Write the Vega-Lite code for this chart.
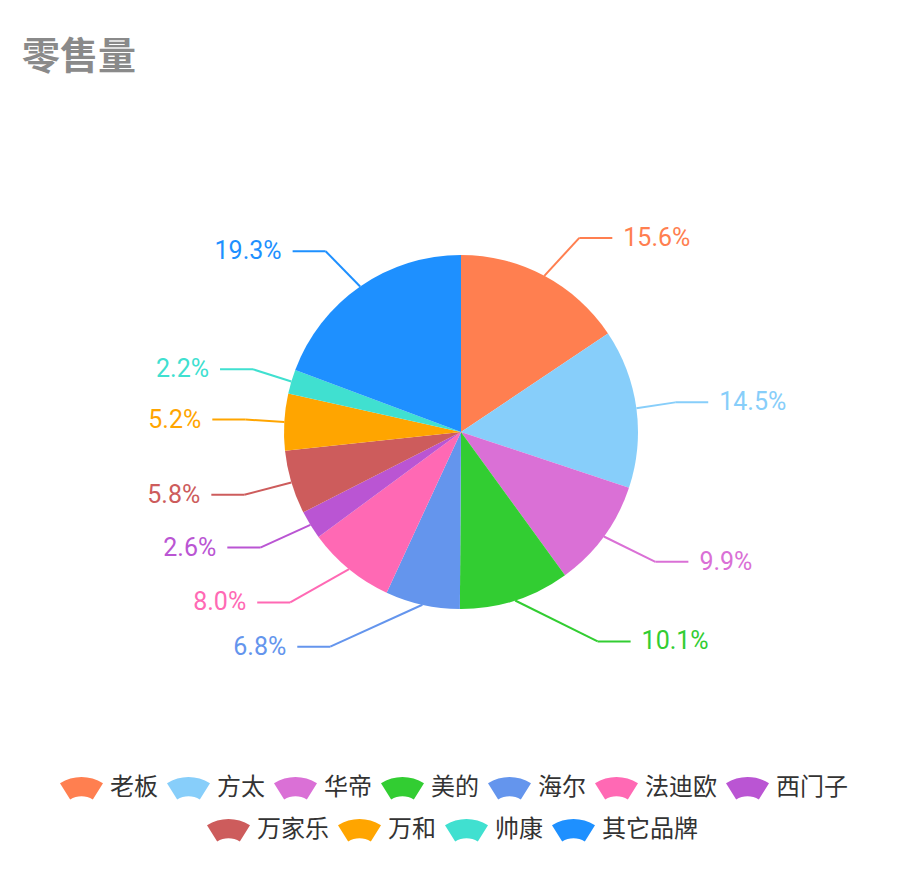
{
  "$schema": "https://vega.github.io/schema/vega-lite/v6.json",
  "description": "零售量 pie with leader-line labels",
  "width": 922,
  "height": 716,
  "autosize": "none",
  "padding": {"top": 74, "bottom": 92, "left": 0, "right": 0},
  "background": "white",
  "title": {
    "text": "零售量",
    "anchor": "start",
    "frame": "group",
    "dx": 22,
    "dy": 39,
    "offset": 6,
    "baseline": "alphabetic",
    "font": "Noto Sans CJK SC",
    "fontSize": 38,
    "fontWeight": "bold",
    "color": "#8a8a8a"
  },
  "data": {
    "values": [
      {"brand": "老板", "pct": 15.6},
      {"brand": "方太", "pct": 14.5},
      {"brand": "华帝", "pct": 9.9},
      {"brand": "美的", "pct": 10.1},
      {"brand": "海尔", "pct": 6.8},
      {"brand": "法迪欧", "pct": 8.0},
      {"brand": "西门子", "pct": 2.6},
      {"brand": "万家乐", "pct": 5.8},
      {"brand": "万和", "pct": 5.2},
      {"brand": "帅康", "pct": 2.2},
      {"brand": "其它品牌", "pct": 19.3}
    ]
  },
  "transform": [
    {"window": [{"op": "sum", "field": "pct", "as": "end"}], "frame": [null, 0]},
    {"calculate": "datum.end - datum.pct", "as": "start"},
    {"calculate": "(datum.start + datum.pct / 2) * 2 * PI / 100", "as": "a"},
    {"calculate": "sin(datum.a) >= 0 ? 1 : -1", "as": "dir"},
    {"calculate": "177 * sin(datum.a)", "as": "sx"},
    {"calculate": "177 * cos(datum.a)", "as": "sy"},
    {"calculate": "220 * cos(datum.a)", "as": "ey"},
    {"calculate": "datum.ey > 0 ? 216 : 223", "as": "rA"},
    {"calculate": "datum.ey > 0 ? 232 : 265", "as": "rB"},
    {"calculate": "datum.dir * datum.rA * sqrt(max(0, 1 - datum.ey * datum.ey / (datum.rB * datum.rB)))", "as": "ex"},
    {"calculate": "datum.ex + datum.dir * 33", "as": "tx"},
    {"calculate": "format(datum.pct, '.1f') + '%'", "as": "label"}
  ],
  "layer": [
    {
      "transform": [{"filter": {"field": "brand", "oneOf": ["老板", "方太", "华帝", "美的", "海尔", "法迪欧", "西门子"]}}],
      "mark": {"type": "arc", "outerRadius": 177},
      "encoding": {
        "theta": {"field": "start", "type": "quantitative", "scale": {"domain": [0, 100]}},
        "theta2": {"field": "end"},
        "fill": {
          "field": "brand",
          "type": "nominal",
          "scale": {
            "domain": ["老板", "方太", "华帝", "美的", "海尔", "法迪欧", "西门子"],
            "range": ["#ff7f50", "#87cefa", "#da70d6", "#32cd32", "#6495ed", "#ff69b4", "#ba55d3"]
          },
          "legend": {"orient": "none", "legendX": 60, "legendY": 692, "direction": "horizontal"}
        }
      }
    },
    {
      "transform": [{"filter": {"field": "brand", "oneOf": ["万家乐", "万和", "帅康", "其它品牌"]}}],
      "mark": {"type": "arc", "outerRadius": 177},
      "encoding": {
        "theta": {"field": "start", "type": "quantitative", "scale": {"domain": [0, 100]}},
        "theta2": {"field": "end"},
        "fill": {
          "field": "brand",
          "type": "nominal",
          "scale": {
            "domain": ["万家乐", "万和", "帅康", "其它品牌"],
            "range": ["#cd5c5c", "#ffa500", "#40e0d0", "#1e90ff"]
          },
          "legend": {"orient": "none", "legendX": 207, "legendY": 734, "direction": "horizontal"}
        }
      }
    },
    {
      "mark": {"type": "rule", "strokeWidth": 2},
      "encoding": {
        "x": {"field": "sx", "type": "quantitative", "scale": {"domain": [-461, 461], "nice": false, "zero": false}, "axis": null},
        "y": {"field": "sy", "type": "quantitative", "scale": {"domain": [-358, 358], "nice": false, "zero": false}, "axis": null},
        "x2": {"field": "ex"},
        "y2": {"field": "ey"},
        "stroke": {
          "field": "brand",
          "type": "nominal",
          "scale": {
            "domain": ["老板", "方太", "华帝", "美的", "海尔", "法迪欧", "西门子", "万家乐", "万和", "帅康", "其它品牌"],
            "range": ["#ff7f50", "#87cefa", "#da70d6", "#32cd32", "#6495ed", "#ff69b4", "#ba55d3", "#cd5c5c", "#ffa500", "#40e0d0", "#1e90ff"]
          },
          "legend": null
        }
      }
    },
    {
      "mark": {"type": "rule", "strokeWidth": 2},
      "encoding": {
        "x": {"field": "ex", "type": "quantitative", "scale": {"domain": [-461, 461], "nice": false, "zero": false}, "axis": null},
        "y": {"field": "ey", "type": "quantitative", "scale": {"domain": [-358, 358], "nice": false, "zero": false}, "axis": null},
        "x2": {"field": "tx"},
        "stroke": {
          "field": "brand",
          "type": "nominal",
          "scale": {
            "domain": ["老板", "方太", "华帝", "美的", "海尔", "法迪欧", "西门子", "万家乐", "万和", "帅康", "其它品牌"],
            "range": ["#ff7f50", "#87cefa", "#da70d6", "#32cd32", "#6495ed", "#ff69b4", "#ba55d3", "#cd5c5c", "#ffa500", "#40e0d0", "#1e90ff"]
          },
          "legend": null
        }
      }
    },
    {
      "transform": [{"filter": "datum.dir > 0"}],
      "mark": {"type": "text", "align": "left", "baseline": "middle", "dx": 11, "font": "Roboto", "fontSize": 25},
      "encoding": {
        "x": {"field": "tx", "type": "quantitative", "scale": {"domain": [-461, 461], "nice": false, "zero": false}, "axis": null},
        "y": {"field": "ey", "type": "quantitative", "scale": {"domain": [-358, 358], "nice": false, "zero": false}, "axis": null},
        "text": {"field": "label"},
        "color": {
          "field": "brand",
          "type": "nominal",
          "scale": {
            "domain": ["老板", "方太", "华帝", "美的", "海尔", "法迪欧", "西门子", "万家乐", "万和", "帅康", "其它品牌"],
            "range": ["#ff7f50", "#87cefa", "#da70d6", "#32cd32", "#6495ed", "#ff69b4", "#ba55d3", "#cd5c5c", "#ffa500", "#40e0d0", "#1e90ff"]
          },
          "legend": null
        }
      }
    },
    {
      "transform": [{"filter": "datum.dir < 0"}],
      "mark": {"type": "text", "align": "right", "baseline": "middle", "dx": -11, "font": "Roboto", "fontSize": 25},
      "encoding": {
        "x": {"field": "tx", "type": "quantitative", "scale": {"domain": [-461, 461], "nice": false, "zero": false}, "axis": null},
        "y": {"field": "ey", "type": "quantitative", "scale": {"domain": [-358, 358], "nice": false, "zero": false}, "axis": null},
        "text": {"field": "label"},
        "color": {
          "field": "brand",
          "type": "nominal",
          "scale": {
            "domain": ["老板", "方太", "华帝", "美的", "海尔", "法迪欧", "西门子", "万家乐", "万和", "帅康", "其它品牌"],
            "range": ["#ff7f50", "#87cefa", "#da70d6", "#32cd32", "#6495ed", "#ff69b4", "#ba55d3", "#cd5c5c", "#ffa500", "#40e0d0", "#1e90ff"]
          },
          "legend": null
        }
      }
    }
  ],
  "resolve": {"scale": {"fill": "independent"}, "legend": {"fill": "independent"}},
  "config": {
    "view": {"stroke": null},
    "legend": {
      "title": null,
      "symbolType": "M -1 -0.215 A 1.9 1.9 0 0 1 1 -0.215 L 0.527 0.55 A 1 1 0 0 0 -0.527 0.55 Z",
      "symbolSize": 1849,
      "symbolStrokeWidth": 0,
      "symbolOpacity": 1,
      "labelFont": "Noto Sans CJK SC",
      "labelFontSize": 24,
      "labelColor": "#333333",
      "labelOffset": 7,
      "labelLimit": 0,
      "columnPadding": 9,
      "padding": 0
    }
  }
}
